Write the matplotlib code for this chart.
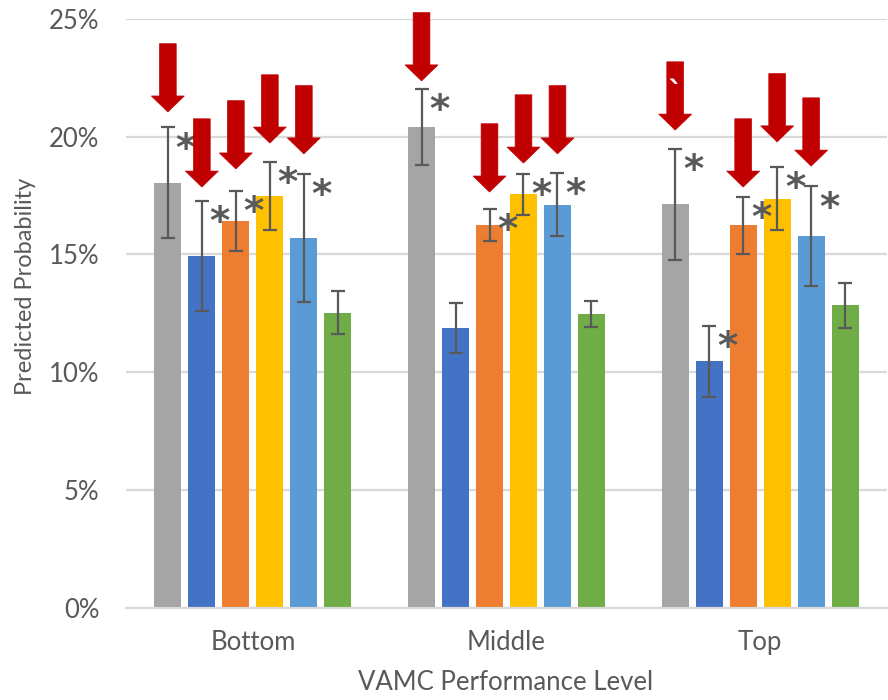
import matplotlib
matplotlib.use("Agg")
import matplotlib.pyplot as plt
from matplotlib.patches import FancyArrow
import numpy as np

plt.rcParams['font.family'] = ['Lato', 'DejaVu Sans']

levels = ["Bottom", "Middle", "Top"]

# predicted probability (%) for each series across Bottom / Middle / Top
p_gray = [18.03, 20.41, 17.14]
p_blue = [14.93, 11.87, 10.47]
p_orange = [16.42, 16.25, 16.25]
p_yellow = [17.48, 17.57, 17.35]
p_ltblue = [15.70, 17.10, 15.78]
p_green = [12.51, 12.47, 12.85]

# 95% CI bounds (%)
lo_gray = [15.71, 18.81, 14.78]
hi_gray = [20.40, 22.03, 19.49]
lo_blue = [12.60, 10.81, 8.96]
hi_blue = [17.27, 12.94, 11.96]
lo_orange = [15.16, 15.56, 15.03]
hi_orange = [17.71, 16.94, 17.44]
lo_yellow = [16.04, 16.69, 16.02]
hi_yellow = [18.94, 18.42, 18.73]
lo_ltblue = [12.96, 15.79, 13.66]
hi_ltblue = [18.42, 18.46, 17.89]
lo_green = [11.63, 11.93, 11.86]
hi_green = [13.45, 13.02, 13.80]

# significance stars, one flag per series, per level
stars_bottom = [1, 1, 1, 1, 1, 0]
stars_middle = [1, 0, 1, 1, 1, 0]
stars_top = [1, 1, 1, 1, 1, 0]

# red arrow tips (%) per series, per level (None = no arrow)
arrows_bottom = [21.05, 17.86, 18.63, 19.73, 19.27, None]
arrows_middle = [22.37, None, 17.65, 18.88, 19.27, None]
arrows_top = [20.28, None, 17.86, 19.78, 18.75, None]

colors = ["#A5A5A5", "#4472C4", "#ED7D31", "#FFC000", "#5B9BD5", "#70AD47"]
txt = "#595959"

vals = [p_gray, p_blue, p_orange, p_yellow, p_ltblue, p_green]
los = [lo_gray, lo_blue, lo_orange, lo_yellow, lo_ltblue, lo_green]
his = [hi_gray, hi_blue, hi_orange, hi_yellow, hi_ltblue, hi_green]
stars = [stars_bottom, stars_middle, stars_top]
arrows = [arrows_bottom, arrows_middle, arrows_top]

fig = plt.figure(figsize=(8.88, 7), dpi=100)
ax = fig.add_axes([126 / 888, 92.5 / 700, 761 / 888, 588.5 / 700])

x = np.arange(len(levels))
step = 0.134
width = 0.106

for i, (v, lo, hi, c) in enumerate(zip(vals, los, his, colors)):
    xs = x + (i - 2.5) * step
    v = np.array(v)
    yerr = [v - np.array(lo), np.array(hi) - v]
    ax.bar(xs, v, width, color=c, zorder=2)
    ax.errorbar(xs, v, yerr=yerr, fmt='none', ecolor=txt, elinewidth=1.6,
                capsize=5, capthick=1.6, zorder=3)

# stars and arrows
for g in range(len(levels)):
    for i in range(len(vals)):
        xc = x[g] + (i - 2.5) * step
        if stars[g][i]:
            ax.text(xc + 0.07, his[i][g] - 0.95, "*", color=txt, fontsize=28,
                    fontweight='bold', family='DejaVu Sans',
                    ha='center', va='center', zorder=4)
        tip = arrows[g][i]
        if tip is not None:
            length = 2.9
            arr = FancyArrow(xc, tip + length, 0, -length, width=0.066,
                             head_width=0.13, head_length=0.68,
                             length_includes_head=True, color="#C00000",
                             lw=0.5, clip_on=False, zorder=5)
            ax.add_patch(arr)

# stray mark on the Top gray arrow
ax.text(x[2] - 2.5 * step + 0.002, 21.8, "`", color="white", fontsize=22,
        fontweight='bold', family='DejaVu Sans',
        ha='center', va='center', zorder=6)

ax.set_xlim(-0.5, 2.5)
ax.set_ylim(0, 25)
ax.set_yticks(np.arange(0, 26, 5))
ax.set_yticklabels([f"{t}%" for t in range(0, 26, 5)])
ax.set_xticks(x)
ax.set_xticklabels(levels)
ax.tick_params(axis='both', length=0, labelsize=18.5, labelcolor=txt)
ax.tick_params(axis='y', pad=19)
ax.tick_params(axis='x', pad=16)

ax.yaxis.grid(True, color="#D9D9D9", lw=1.6)
ax.set_axisbelow(True)
for s in ["top", "right", "left"]:
    ax.spines[s].set_visible(False)
ax.spines["bottom"].set_color("#D9D9D9")
ax.spines["bottom"].set_linewidth(1.6)

fig.text(25 / 888, 1 - 286 / 700, "Predicted Probability", rotation=90,
         ha='center', va='center', fontsize=17, color=txt)
fig.text(506 / 888, 1 - 683 / 700, "VAMC Performance Level",
         ha='center', va='center', fontsize=18.5, color=txt)

fig.savefig("out.png", dpi=100)
